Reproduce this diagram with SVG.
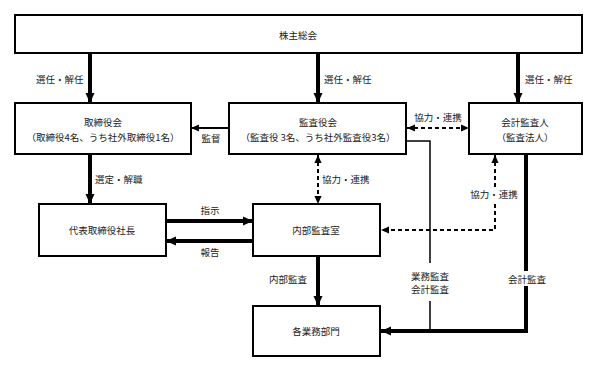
<svg xmlns="http://www.w3.org/2000/svg" width="597" height="370" viewBox="0 0 597 370">
<style>
.box{fill:#fff;stroke:#000;stroke-width:2}
text{font-family:"Noto Sans CJK JP","Noto Sans",sans-serif;font-size:9.5px;fill:#222}
.c{text-anchor:middle}
.thick{fill:none;stroke:#000;stroke-width:4}
.med{fill:none;stroke:#000;stroke-width:2}
.thin{fill:none;stroke:#000;stroke-width:1.5}
.dash{fill:none;stroke:#000;stroke-width:2;stroke-dasharray:4 3}
.bg{fill:#fff}
</style>
<defs>
<marker id="ah" markerUnits="userSpaceOnUse" markerWidth="10" markerHeight="10" viewBox="0 0 10 10" refX="10" refY="5" orient="auto-start-reverse">
<path d="M0,0.5 L10,5 L0,9.5 Z" fill="#000"/>
</marker>
<marker id="as" markerUnits="userSpaceOnUse" markerWidth="8" markerHeight="8" viewBox="0 0 10 10" refX="10" refY="5" orient="auto-start-reverse">
<path d="M0,0.5 L10,5 L0,9.5 Z" fill="#000"/>
</marker>
</defs>
<rect width="597" height="370" fill="#fff"/>

<g id="connectors">
<line class="thick" x1="90" y1="53" x2="90" y2="103" marker-end="url(#ah)"/>
<line class="thick" x1="318" y1="53" x2="318" y2="103" marker-end="url(#ah)"/>
<line class="thick" x1="518" y1="53" x2="518" y2="103" marker-end="url(#ah)"/>
<line class="med" x1="229" y1="128" x2="191" y2="128" marker-end="url(#as)"/>
<line class="dash" x1="407" y1="128" x2="469" y2="128" marker-start="url(#as)" marker-end="url(#as)"/>
<line class="thick" x1="90" y1="154" x2="90" y2="204" marker-end="url(#ah)"/>
<line class="thick" x1="166" y1="221" x2="253" y2="221" marker-end="url(#ah)"/>
<line class="thick" x1="253" y1="241" x2="166" y2="241" marker-end="url(#ah)"/>
<line class="dash" x1="318" y1="155" x2="318" y2="204" marker-start="url(#as)" marker-end="url(#as)"/>
<path class="dash" d="M495 155 V230 H381" marker-start="url(#as)" marker-end="url(#as)"/>
<line class="thick" x1="318" y1="256" x2="318" y2="306" marker-end="url(#ah)"/>
<path class="thin" d="M406 141 H430 V331"/>
<path class="thick" d="M526 154 V331 H381" marker-end="url(#ah)"/>

<text x="36" y="83">選任・解任</text>
<text x="324" y="83">選任・解任</text>
<text x="525" y="83">選任・解任</text>
<text class="c" x="438" y="121">協力・連携</text>
<text class="c" x="211" y="142">監督</text>
<text x="95" y="183">選定・解職</text>
<text x="322" y="183">協力・連携</text>
<rect class="bg" x="468" y="187" width="52" height="14"/>
<text class="c" x="494" y="198">協力・連携</text>
<text class="c" x="210" y="214">指示</text>
<text class="c" x="210" y="256">報告</text>
<text x="269" y="283">内部監査</text>
<rect class="bg" x="408" y="263" width="44" height="38"/>
<text class="c" x="430" y="280">業務監査</text>
<text class="c" x="430" y="293">会計監査</text>
<rect class="bg" x="506" y="271" width="42" height="15"/>
<text class="c" x="527" y="283">会計監査</text>
</g>

<g id="shareholders">
<rect class="box" x="15" y="15" width="567" height="38"/>
<text class="c" x="298" y="39">株主総会</text>
</g>
<g id="board">
<rect class="box" x="15" y="103" width="176" height="51"/>
<text class="c" x="103" y="126">取締役会</text>
<text class="c" x="103" y="141">（取締役4名、うち社外取締役1名）</text>
</g>
<g id="auditors">
<rect class="box" x="229" y="103" width="177" height="51"/>
<text class="c" x="318" y="126">監査役会</text>
<text class="c" x="318" y="141">（監査役 3名、うち社外監査役3名）</text>
</g>
<g id="accounting-auditor">
<rect class="box" x="469" y="103" width="113" height="51"/>
<text class="c" x="525" y="126">会計監査人</text>
<text class="c" x="525" y="141">（監査法人）</text>
</g>
<g id="president">
<rect class="box" x="39" y="204" width="127" height="52"/>
<text class="c" x="102" y="234">代表取締役社長</text>
</g>
<g id="internal-audit">
<rect class="box" x="253" y="204" width="127" height="52"/>
<text class="c" x="316" y="234">内部監査室</text>
</g>
<g id="departments">
<rect class="box" x="253" y="306" width="127" height="50"/>
<text class="c" x="316" y="335">各業務部門</text>
</g>
</svg>
